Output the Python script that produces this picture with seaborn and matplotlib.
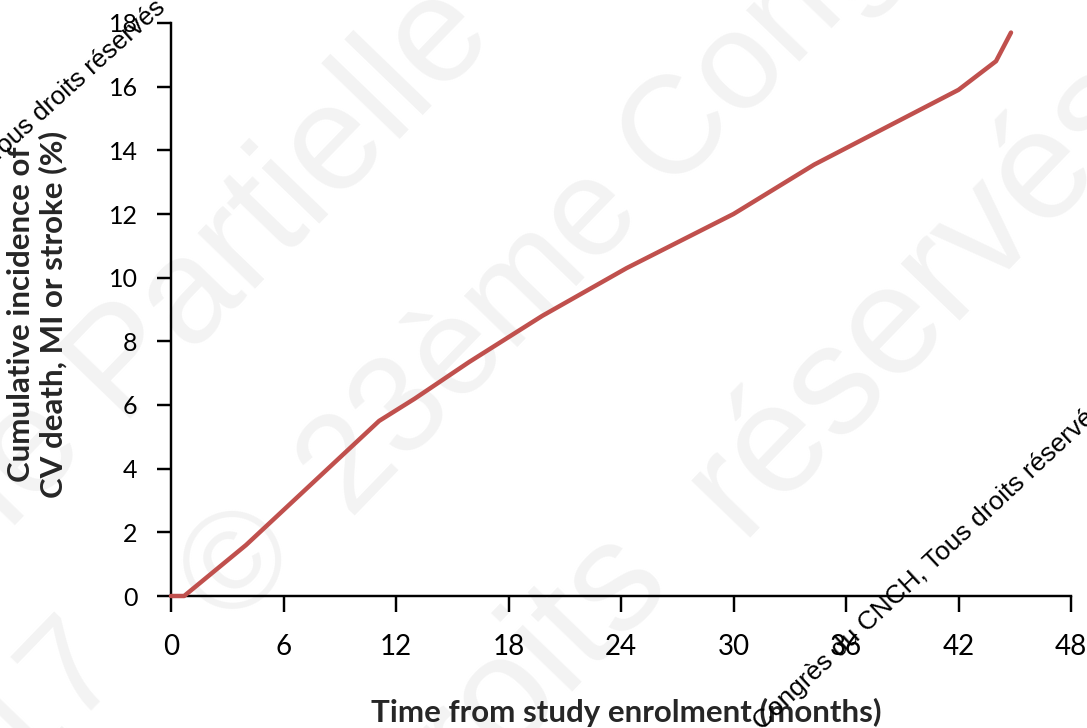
import matplotlib
matplotlib.use("Agg")
import matplotlib.pyplot as plt
import seaborn as sns

# data
months = [0, 0.7, 4.0, 11.1, 13.0, 15.9, 19.8, 24.3, 30.0, 34.3, 42.0, 44.0, 44.8]
incidence = [0, 0, 1.6, 5.5, 6.2, 7.35, 8.8, 10.3, 12.0, 13.55, 15.9, 16.8, 17.7]
xticks = [0, 6, 12, 18, 24, 30, 36, 42, 48]
yticks = [0, 2, 4, 6, 8, 10, 12, 14, 16, 18]

xlabel = "Time from study enrolment (months)"
ylabel = "Cumulative incidence of\nCV death, MI or stroke (%)"
stamp = "2017 © 23ème Congrès du CNCH, Tous droits réservés"
# big faint watermark pieces: (text, x px, y px, ha, size)
watermark = [
    ("Reproduction même", 61, 421, 'right', 108),
    ("Partielle", 90, 391, 'left', 108),
    ("2017", 100, 642, 'right', 100),
    ("©", 241, 567, 'center', 100),
    ("23ème", 470, 338, 'center', 100),
    ("Congrès du CNCH", 644, 170, 'left', 100),
    ("Tous droits", 645, 559, 'right', 112),
    ("réservés", 918, 295, 'center', 112),
]

sns.set_style("ticks")
plt.rcParams['font.family'] = ['Lato', 'DejaVu Sans']

W, H = 1087, 728
fig = plt.figure(figsize=(W / 100, H / 100), dpi=100)
ax = fig.add_axes([171 / W, 1 - 596 / H, 900 / W, 573 / H])
ax.patch.set_alpha(0)
ax.set_zorder(2)

# faint background watermark
for txt, px, py, ha, size in watermark:
    fig.text(px / W, 1 - py / H, txt, fontsize=size, color='#f3f3f3',
             family=['Liberation Sans', 'DejaVu Sans'], rotation=46,
             rotation_mode='anchor', ha=ha, va='center', zorder=0)

sns.lineplot(x=months, y=incidence, color='#C0504D', lw=3.2,
             sort=False, ax=ax)
for l in ax.lines:
    l.set_clip_on(False)
    l.set_zorder(4)

ax.set_xlim(0, 48)
ax.set_ylim(0, 18)
ax.set_xticks(xticks)
ax.set_yticks(yticks)
sns.despine(ax=ax)
for s in ['left', 'bottom']:
    ax.spines[s].set_linewidth(1.75)
    ax.spines[s].set_color('black')
ax.tick_params(axis='x', direction='out', length=11.5, width=1.75, pad=16,
               labelsize=20, colors='black')
ax.tick_params(axis='y', direction='out', length=10, width=1.75, pad=14,
               labelsize=18, colors='black')

ax.set_xlabel(xlabel, fontsize=22.5, fontweight='bold', va='center')
ax.xaxis.set_label_coords((626 - 171) / 900, (596 - 712) / 573)
ax.set_ylabel(ylabel, fontsize=22.5, fontweight='bold', va='center',
              linespacing=1.12)
ax.yaxis.set_label_coords((37 - 171) / 900, (596 - 314) / 573)

# small black copyright stamps
fig.text(1106 / W, 1 - 410 / H, stamp, fontsize=19, color='black',
         family=['Liberation Sans', 'DejaVu Sans'], rotation=43,
         rotation_mode='anchor', ha='right', va='baseline', zorder=10)
fig.text(167 / W, 1 - 9 / H, stamp, fontsize=18.5, color='black',
         family=['Liberation Sans', 'DejaVu Sans'], rotation=42,
         rotation_mode='anchor', ha='right', va='baseline', zorder=10)

fig.savefig("out.png", dpi=100)
